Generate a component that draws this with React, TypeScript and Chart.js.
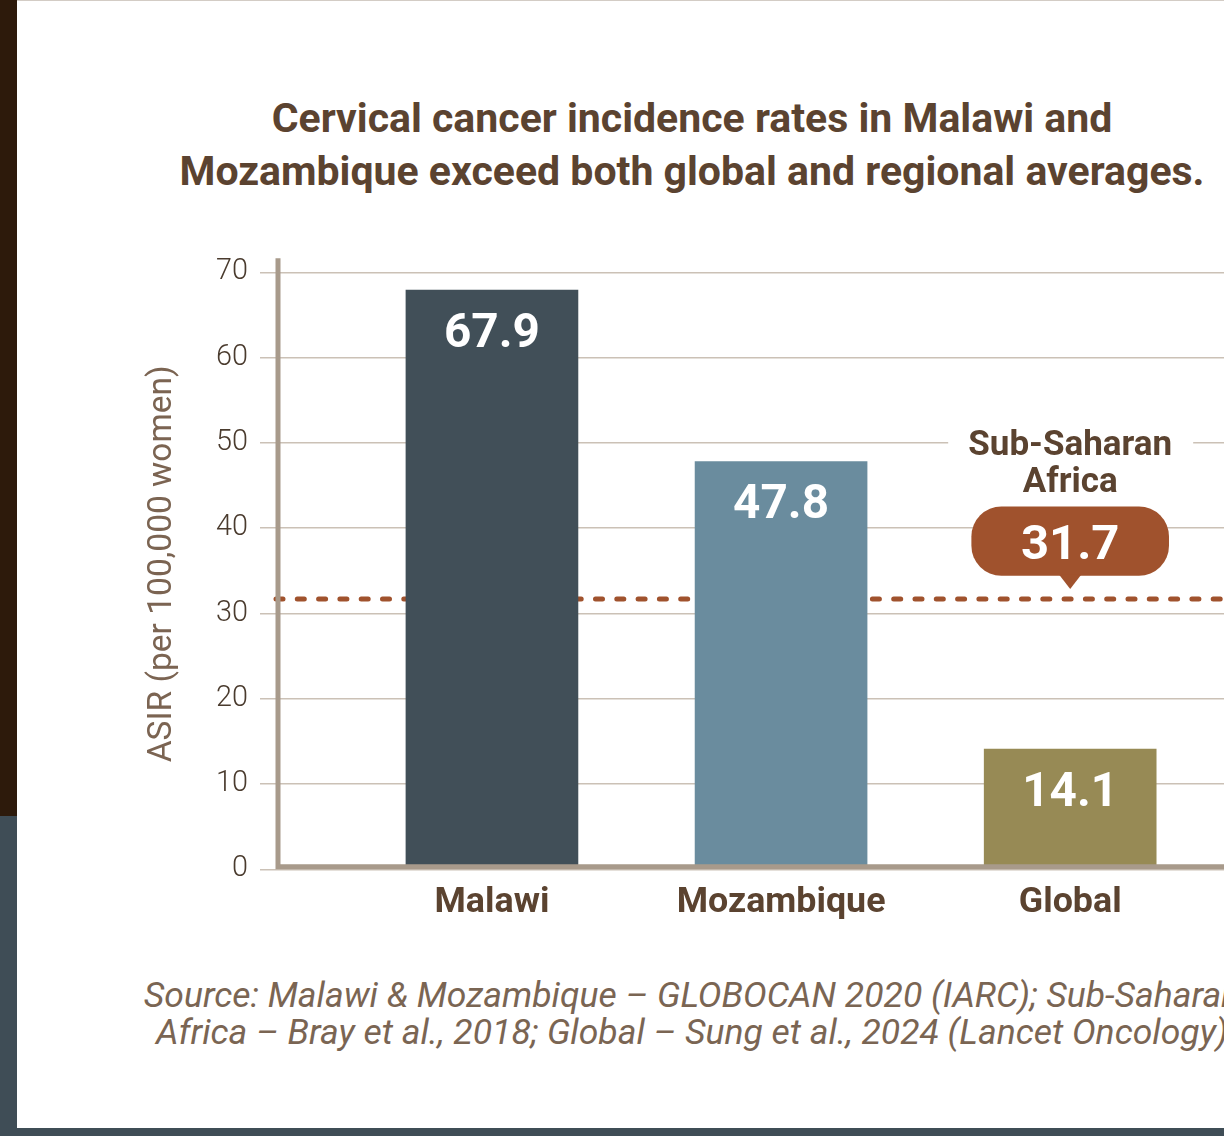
import React, { useEffect, useRef } from 'react';
import { Chart, registerables } from 'chart.js';

Chart.register(...registerables);

const titleLines = [
  'Cervical cancer incidence rates in Malawi and',
  'Mozambique exceed both global and regional averages.',
];
const categories = ['Malawi', 'Mozambique', 'Global'];
const asirValues = [67.9, 47.8, 14.1];
const valueLabels = ['67.9', '47.8', '14.1'];
const barColors = ['#414f58', '#6a8c9e', '#978a55'];
const regionName = ['Sub-Saharan', 'Africa'];
const regionValue = 31.7;
const regionLabel = '31.7';
const yTickValues = [0, 10, 20, 30, 40, 50, 60, 70];
const yAxisTitle = 'ASIR (per 100,000 women)';
const sourceLines = [
  'Source: Malawi & Mozambique – GLOBOCAN 2020 (IARC); Sub-Saharan',
  'Africa – Bray et al., 2018; Global – Sung et al., 2024 (Lancet Oncology)',
];

const FONT = 'Roboto';
const BROWN = '#5b4330';
const SIENNA = '#a0522d';
const AXIS = '#a89a8b';
const GRID = '#cbc1b6';

const calloutPlugin = {
  id: 'callout',
  beforeDatasetsDraw(chart: any) {
    const { ctx, chartArea, scales } = chart;
    const y = scales.y.getPixelForValue(regionValue);
    ctx.save();
    ctx.strokeStyle = SIENNA;
    ctx.lineWidth = 5;
    ctx.lineCap = 'round';
    ctx.setLineDash([7, 14.3]);
    ctx.beginPath();
    ctx.moveTo(chartArea.left - 2, y);
    ctx.lineTo(chartArea.right + 20, y);
    ctx.stroke();
    ctx.restore();
  },
  afterDatasetsDraw(chart: any) {
    const { ctx, chartArea, scales } = chart;
    const meta = chart.getDatasetMeta(0);
    ctx.save();
    // axis lines
    ctx.strokeStyle = AXIS;
    ctx.lineWidth = 5;
    ctx.beginPath();
    ctx.moveTo(chartArea.left, chartArea.top);
    ctx.lineTo(chartArea.left, chartArea.bottom);
    ctx.moveTo(chartArea.left - 2.5, chartArea.bottom - 2.5);
    ctx.lineTo(chartArea.right + 10, chartArea.bottom - 2.5);
    ctx.stroke();

    // value labels inside the bars
    ctx.fillStyle = '#ffffff';
    ctx.textAlign = 'center';
    ctx.textBaseline = 'alphabetic';
    ctx.font = `bold 47.7px ${FONT}`;
    meta.data.forEach((bar: any, i: number) => {
      const m = ctx.measureText(valueLabels[i]);
      ctx.fillText(valueLabels[i], bar.x, bar.y + 39.5 + m.actualBoundingBoxAscent / 2);
    });

    // Sub-Saharan Africa callout
    const cx = scales.x.getPixelForValue(categories.length - 1);
    const ly = scales.y.getPixelForValue(regionValue);
    ctx.fillStyle = '#ffffff';
    ctx.fillRect(cx - 122, ly - 178, 245, 78);
    ctx.fillStyle = BROWN;
    ctx.font = `bold 35px ${FONT}`;
    const mh = ctx.measureText('H').actualBoundingBoxAscent;
    ctx.fillText(regionName[0], cx, ly - 156 + mh / 2);
    ctx.fillText(regionName[1], cx, ly - 119 + mh / 2);

    // bubble
    const bw = 197.6, bh = 69.4, r = 30;
    const bx = cx - bw / 2, by = ly - 92.5;
    ctx.fillStyle = SIENNA;
    ctx.beginPath();
    ctx.roundRect(bx, by, bw, bh, r);
    ctx.fill();
    ctx.beginPath();
    ctx.moveTo(cx - 11, by + bh - 1);
    ctx.lineTo(cx + 11, by + bh - 1);
    ctx.lineTo(cx, ly - 10);
    ctx.closePath();
    ctx.fill();
    ctx.fillStyle = '#ffffff';
    ctx.font = `bold 49px ${FONT}`;
    const m2 = ctx.measureText(regionLabel);
    ctx.fillText(regionLabel, cx, ly - 57 + m2.actualBoundingBoxAscent / 2);
    ctx.restore();
  },
};

export default function App() {
  const ref = useRef<HTMLCanvasElement>(null);

  useEffect(() => {
    const canvas = ref.current!;
    const chart = new Chart(canvas, {
      type: 'bar',
      data: {
        datasets: [
          {
            data: categories.map((_, i) => ({ x: i, y: asirValues[i] })),
            backgroundColor: barColors,
            barThickness: 172,
            borderWidth: 0,
          },
        ],
      },
      options: {
        responsive: false,
        animation: false,
        devicePixelRatio: 1,
        layout: { padding: { top: 258.3, left: 0, right: 0, bottom: 0 } },
        plugins: { legend: { display: false }, tooltip: { enabled: false }, title: { display: false } },
        scales: {
          x: {
            type: 'linear',
            bounds: 'data',
            offset: false,
            min: -0.74,
            max: 2.532,
            afterBuildTicks: (s: any) => {
              s.ticks = categories.map((_, i) => ({ value: i }));
            },
            afterFit: (s: any) => {
              s.height = 1136 - 869.3;
            },
            grid: { display: false, drawTicks: false },
            border: { display: false },
            ticks: {
              autoSkip: false,
              maxRotation: 0,
              padding: 12,
              color: BROWN,
              font: { family: FONT, size: 35.8, weight: 'bold' },
              callback: (v: any) => categories[v] ?? '',
            },
          },
          y: {
            type: 'linear',
            bounds: 'data',
            min: 0,
            max: 71.64,
            afterBuildTicks: (s: any) => {
              s.ticks = yTickValues.map((v) => ({ value: v }));
            },
            afterFit: (s: any) => {
              s.width = 278;
            },
            grid: { color: GRID, lineWidth: 1.5, tickLength: 18, drawTicks: true },
            border: { display: false },
            ticks: {
              padding: 12,
              color: '#4a3b2e',
              font: { family: FONT, size: 28.8, weight: '300' },
            },
            title: {
              display: true,
              text: yAxisTitle,
              color: '#7b6452',
              font: { family: FONT, size: 33.5, weight: 'normal' },
              padding: { top: 163 - 33.5 * 0.6, bottom: 0 },
            },
          },
        },
      } as any,
      plugins: [calloutPlugin],
    });
    return () => chart.destroy();
  }, []);

  return (
    <div style={{ position: 'fixed', left: 0, top: 0, width: 1224, height: 1136, overflow: 'hidden', background: '#3f4d56' }}>
      <div style={{ position: 'absolute', left: 0, top: 0, width: 17, height: 816, background: '#2d1a0b' }} />
      <div style={{ position: 'absolute', left: 17, top: 0, width: 1350, height: 1128, background: '#ffffff', borderTop: '1px solid #d3ccc5', boxSizing: 'border-box' }}>
        <div style={{ position: 'absolute', left: 0, top: 91.2, width: 1350, textAlign: 'center', fontFamily: FONT, fontWeight: 700, fontSize: 41, lineHeight: '53px', color: BROWN, whiteSpace: 'nowrap' }}>
          {titleLines.map((l) => (<div key={l}>{l}</div>))}
        </div>
        <div style={{ position: 'absolute', left: 0, top: 976, width: 1350, textAlign: 'center', fontFamily: FONT, fontStyle: 'italic', fontWeight: 400, fontSize: 35.5, lineHeight: '37px', color: '#7a6553', whiteSpace: 'nowrap' }}>
          {sourceLines.map((l) => (<div key={l}>{l}</div>))}
        </div>
      </div>
      <canvas ref={ref} width={1224} height={1136} style={{ position: 'absolute', left: 0, top: 0, width: 1224, height: 1136 }} />
    </div>
  );
}
